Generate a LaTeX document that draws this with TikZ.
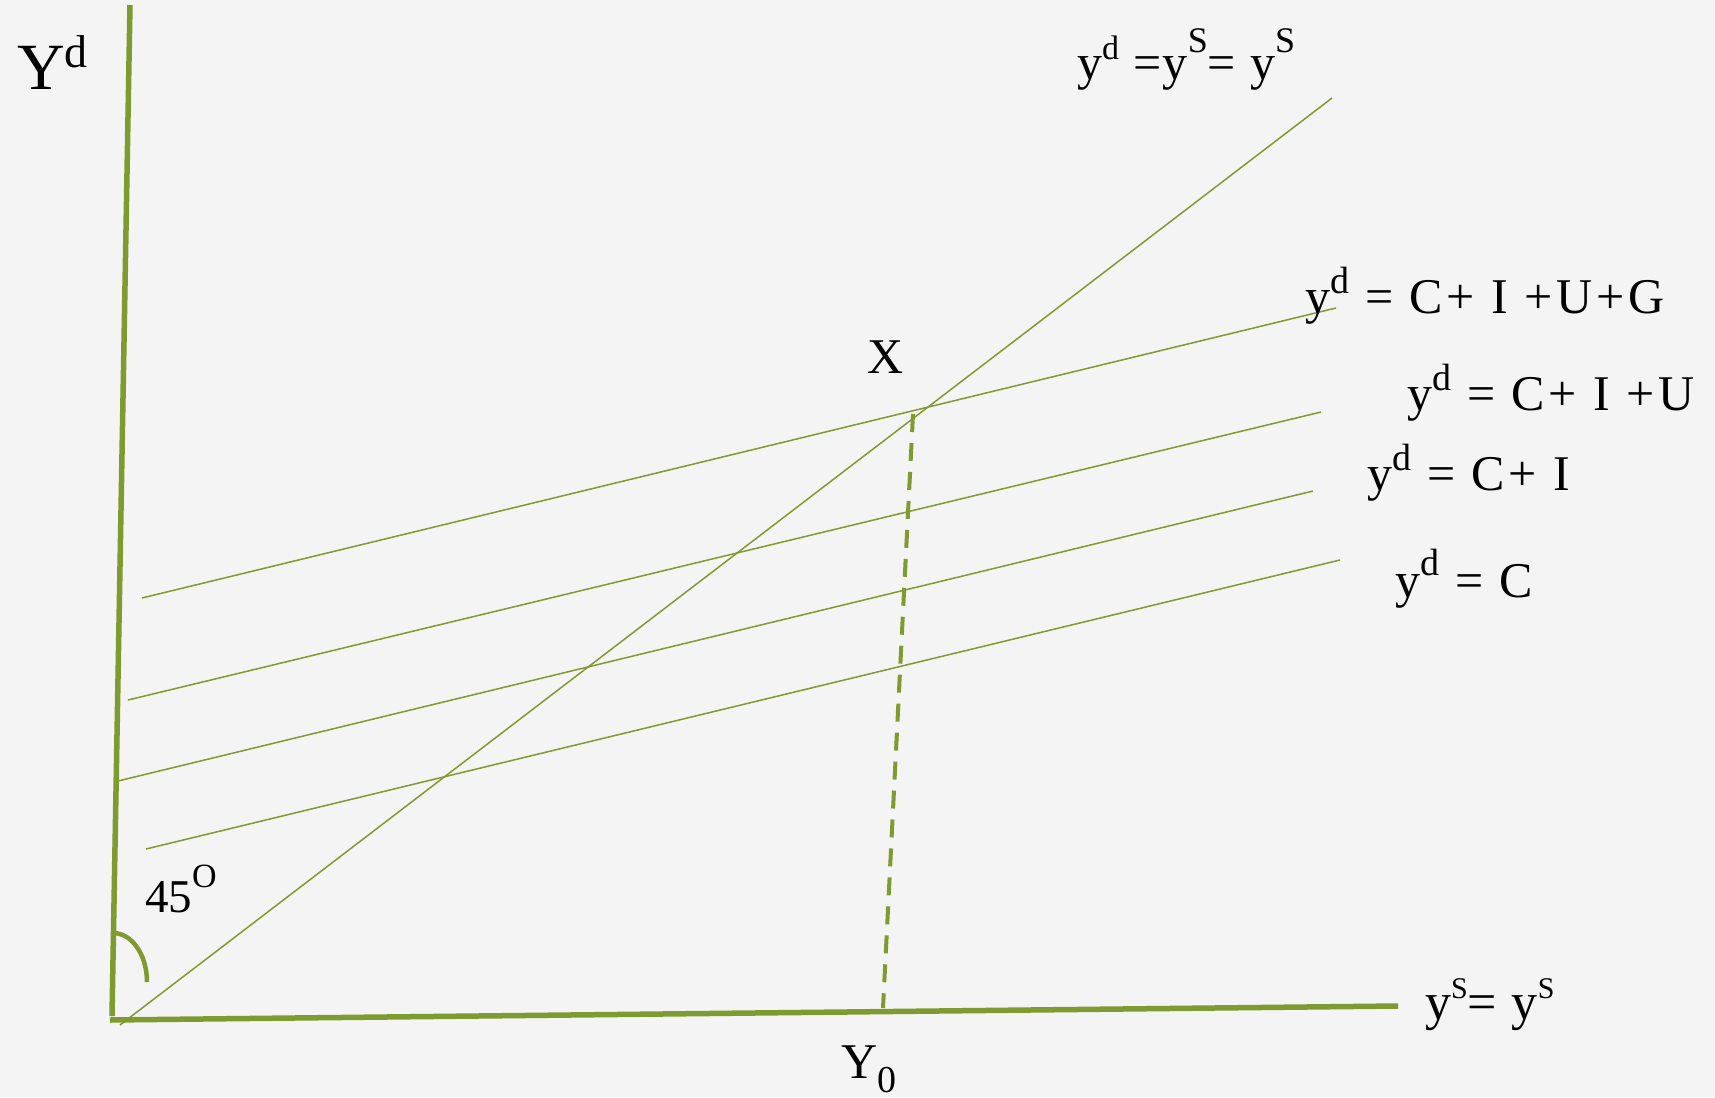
\documentclass[tikz,border=0pt]{standalone}
\usepackage{fontspec}
\setmainfont{Liberation Serif}
\newfontfamily\widefont[LetterSpace=7.5]{Liberation Serif}
\newfontfamily\midfont[LetterSpace=3]{Liberation Serif}
\definecolor{lineolive}{RGB}{127,154,46}
\definecolor{bggray}{RGB}{244,244,244}
\newcommand\rsup[3]{\raisebox{#2pt}{\fontsize{#1}{#1}\selectfont #3}}
\begin{document}
\begin{tikzpicture}[x=1pt,y=-1pt,
  axisline/.style={draw=lineolive,line width=5.5pt},
  thinline/.style={draw=lineolive,line width=1.5pt},
  dashline/.style={draw=lineolive,line width=4pt,dash pattern=on 18pt off 11pt},
  lbl/.style={inner sep=0pt,anchor=base west,font=\fontsize{50}{60}\selectfont},
  widelbl/.style={lbl,font=\widefont\fontsize{50}{60}\selectfont}]
\fill[bggray] (0,0) rectangle (1715,1097);
\useasboundingbox (0,0) rectangle (1715,1097);
% axes
\coordinate (ytop) at (130,5);
\coordinate (ybot) at (112,1016);
\coordinate (xleft) at (110,1020);
\coordinate (xright) at (1398,1006);
\draw[axisline] (ytop) -- (ybot);
\draw[axisline] (xleft) -- (xright);
% 45 degree line
\coordinate (d0) at (120,1025);
\coordinate (d1) at (1332,98);
\draw[thinline] (d0) -- (d1);
% demand lines
\coordinate (g0) at (142,598);
\coordinate (g1) at (1336,308);
\coordinate (u0) at (128,700);
\coordinate (u1) at (1321,412);
\coordinate (i0) at (118,781);
\coordinate (i1) at (1313,491);
\coordinate (c0) at (146,849);
\coordinate (c1) at (1340,560);
\draw[thinline] (g0) -- (g1);
\draw[thinline] (u0) -- (u1);
\draw[thinline] (i0) -- (i1);
\draw[thinline] (c0) -- (c1);
% dashed drop
\coordinate (xt) at (913,414);
\coordinate (xb) at (883,1008);
\draw[dashline] (xt) -- (xb);
% angle arc
\coordinate (a0) at (113,933);
\coordinate (a1) at (147,982);
\draw[draw=lineolive,line width=4.5pt] (a0) .. controls (132,933) and (147,955) .. (a1);
% labels
\node[lbl,font=\fontsize{66}{76}\selectfont] (ydlab) at (17,90) {Y\rsup{46}{22}{d}};
\node[lbl,font=\midfont\fontsize{50}{60}\selectfont] (toplab) at (1077,80) {y\rsup{34}{20}{d} =y\rsup{36}{27}{S}= y\rsup{36}{27}{S}};
\node[widelbl] (lg) at (1305,313) {y\rsup{38}{20}{d} = C+ I +U+G};
\node[widelbl] (lu) at (1407,410) {y\rsup{38}{20}{d} = C+ I +U};
\node[widelbl] (li) at (1367,490) {y\rsup{38}{20}{d} = C+ I};
\node[widelbl] (lc) at (1395,597) {y\rsup{38}{22}{d} = C};
\node[lbl] (xlab) at (867,373) {X};
\node[lbl] (y0lab) at (841,1078) {Y\raisebox{-14pt}{\fontsize{38}{38}\selectfont 0}};
\node[lbl,font=\fontsize{47}{56}\selectfont] (anglab) at (145,912) {45\rsup{34}{25}{O}};
\node[lbl,font=\midfont\fontsize{52}{60}\selectfont] (xaxlab) at (1425,1019) {y\rsup{30}{21}{S}= y\rsup{30}{21}{S}};
\end{tikzpicture}
\end{document}
